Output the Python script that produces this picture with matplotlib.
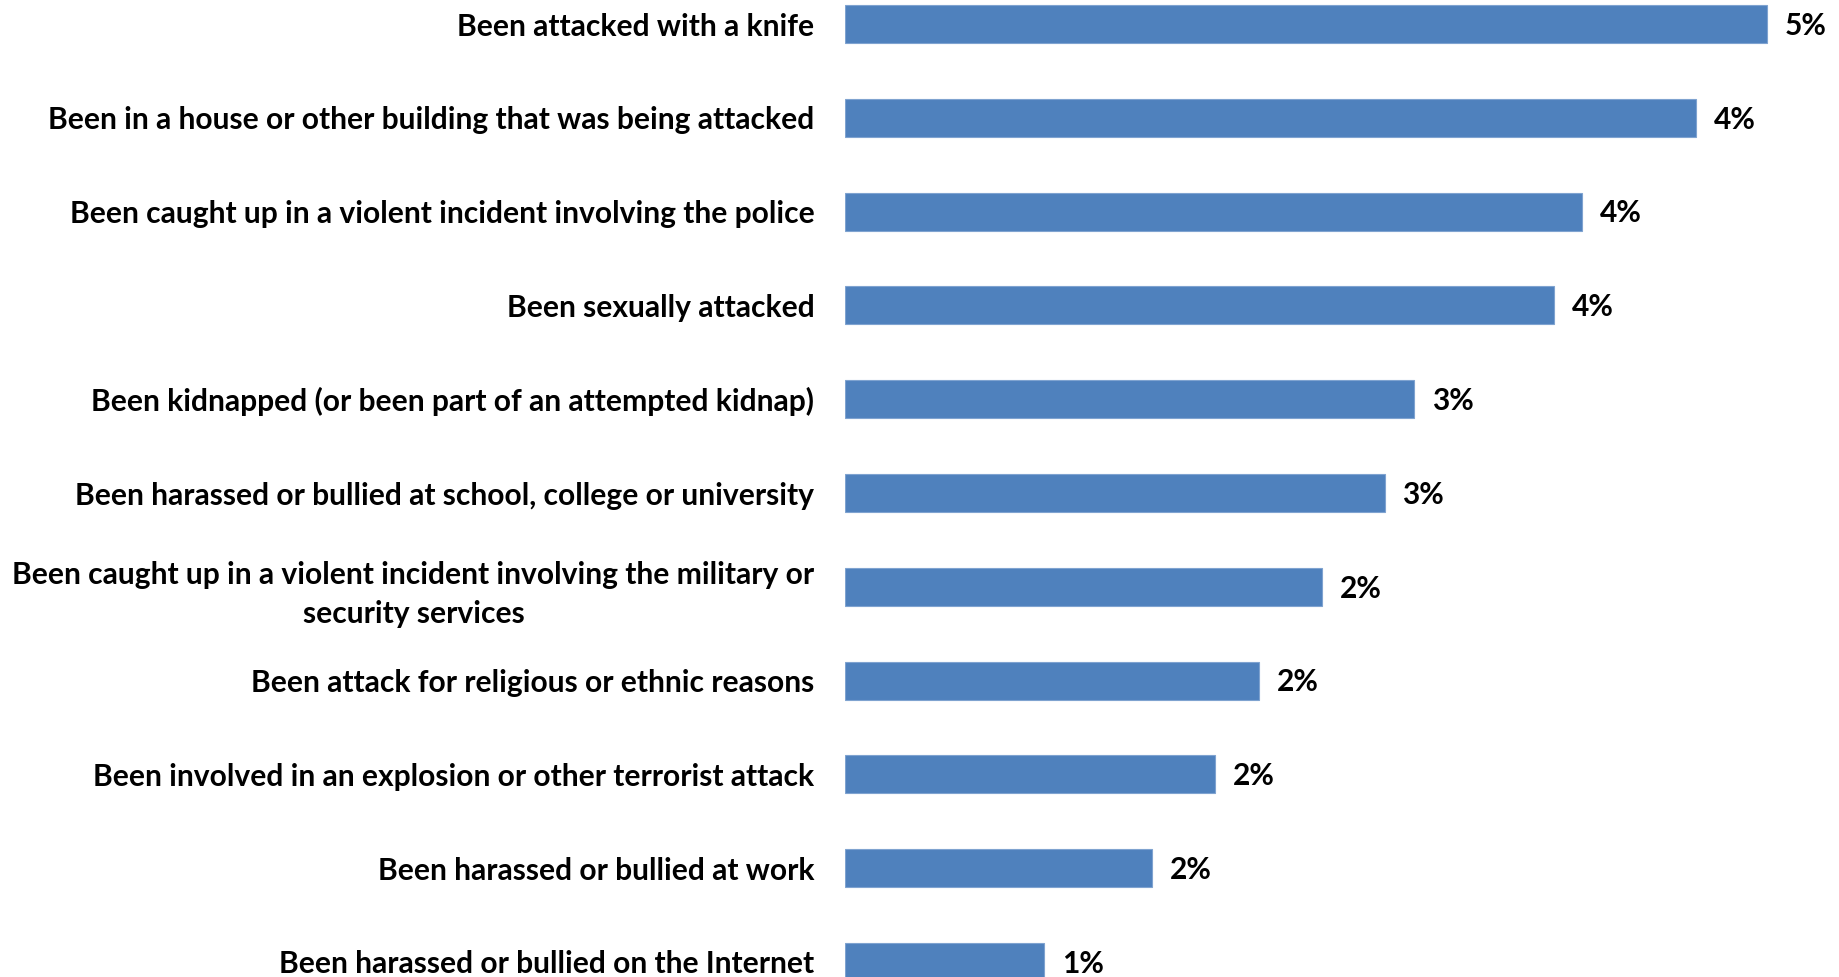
import matplotlib
matplotlib.use("Agg")
import matplotlib.pyplot as plt

categories = [
    "Been attacked with a knife",
    "Been in a house or other building that was being attacked",
    "Been caught up in a violent incident involving the police",
    "Been sexually attacked",
    "Been kidnapped (or been part of an attempted kidnap)",
    "Been harassed or bullied at school, college or university",
    "Been caught up in a violent incident involving the military or\nsecurity services",
    "Been attack for religious or ethnic reasons",
    "Been involved in an explosion or other terrorist attack",
    "Been harassed or bullied at work",
    "Been harassed or bullied on the Internet",
]
values = [4.68, 4.32, 3.74, 3.60, 2.89, 2.74, 2.42, 2.10, 1.88, 1.56, 1.01]
value_labels = ["5%", "4%", "4%", "4%", "3%", "3%", "2%", "2%", "2%", "2%", "1%"]

plt.rcParams["font.family"] = ["Lato", "DejaVu Sans"]
plt.rcParams["font.weight"] = "bold"

fig = plt.figure(figsize=(18.39, 9.77), dpi=100)
ax = fig.add_axes([845 / 1839, 0, 1 - 845 / 1839, 1])

y = list(range(len(categories)))
ax.barh(y, values, height=0.405, color="#4F81BD", edgecolor="#7FA3D0", linewidth=0.8)

for yi, v, lab in zip(y, values, value_labels):
    ax.text(v + 0.09, yi + 0.02, lab, va="center", ha="left", fontsize=21.5, fontweight="bold")

ax.set_xlim(0, 5.046)
ax.set_ylim(10.16, -0.256)
ax.set_yticks(y)
ax.set_yticklabels(categories, fontsize=21.6, fontweight="bold",
                   multialignment="center", linespacing=1.45)
ax.tick_params(axis="y", length=0, pad=22)
ax.set_xticks([])
for s in ax.spines.values():
    s.set_visible(False)

fig.savefig("out.png", dpi=100)
